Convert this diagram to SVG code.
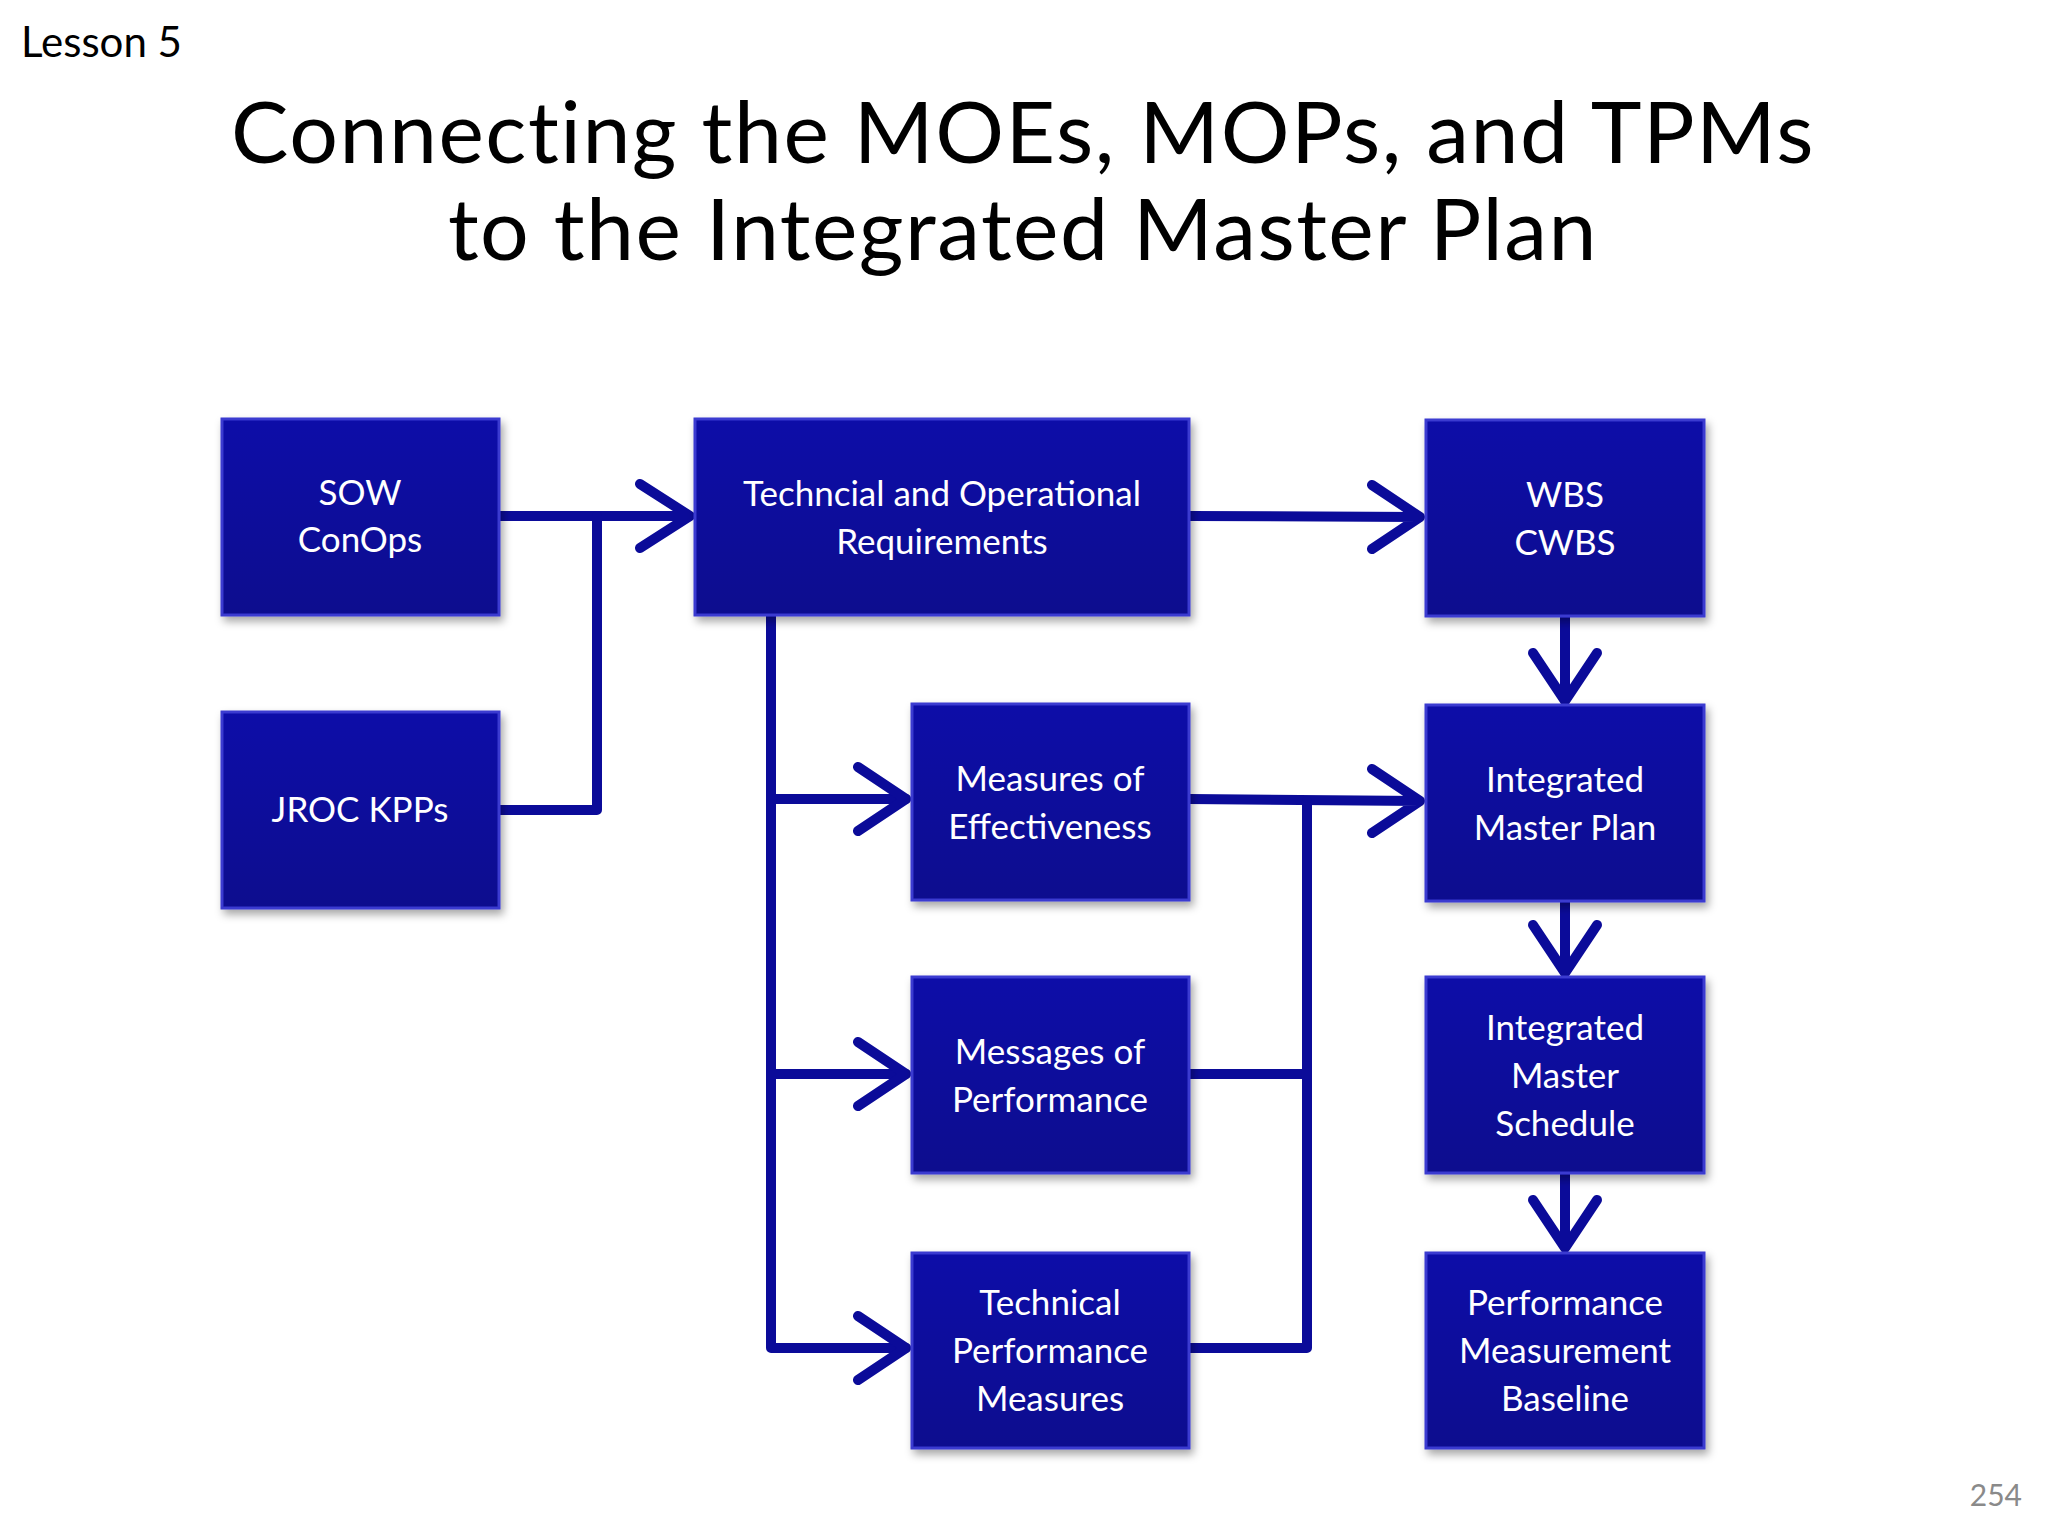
<svg xmlns="http://www.w3.org/2000/svg" width="2048" height="1536" viewBox="0 0 2048 1536">
<defs>
<filter id="sh" x="-10%" y="-10%" width="130%" height="130%"><feDropShadow dx="3" dy="5" stdDeviation="4" flood-color="#000" flood-opacity="0.35"/></filter>
<linearGradient id="g" x1="0" y1="0" x2="0" y2="1"><stop offset="0" stop-color="#0c0ca8"/><stop offset="1" stop-color="#07078e"/></linearGradient>
</defs>
<style>
.b{fill:url(#g);stroke:#3a3ad0;stroke-width:3;filter:url(#sh)}
.t{font-family:Lato,"Open Sans",sans-serif;font-size:35px;fill:#fff;text-anchor:middle}
.c{fill:none;stroke:#0b0b99;stroke-width:10;stroke-linejoin:round;stroke-linecap:round}
.h{font-family:Lato,"Open Sans",sans-serif;font-size:86px;fill:#000;text-anchor:middle;letter-spacing:1.5px}
</style>
<rect width="2048" height="1536" fill="#fff"/>
<text x="21" y="57" font-family="Lato,'Open Sans',sans-serif" font-size="42" fill="#000">Lesson 5</text>
<text class="h" x="1023" y="163">Connecting the MOEs, MOPs, and TPMs</text>
<text class="h" x="1023" y="260">to the Integrated Master Plan</text>
<text x="2022" y="1506" font-family="Lato,'Open Sans',sans-serif" font-size="30" fill="#8a8a8a" text-anchor="end">254</text>

<g id="connectors">
<path class="c" d="M499 516 H690 M640 484 L690 516 L640 548"/>
<path class="c" d="M499 810 H597 V516"/>
<path class="c" d="M1189 516 L1420 517 M1372 485 L1420 517 L1372 549"/>
<path class="c" d="M771 615 V1348 H906 M771 799 H906 M771 1074 H906"/>
<path class="c" d="M858 767 L906 799 L858 831 M858 1042 L906 1074 L858 1106 M858 1316 L906 1348 L858 1380"/>
<path class="c" d="M1189 799 L1420 801 M1372 769 L1420 801 L1372 833"/>
<path class="c" d="M1307 801 V1348 H1189 M1307 1074 H1189"/>
<path class="c" d="M1565 616 V701 M1533 653 L1565 701 L1597 653"/>
<path class="c" d="M1565 901 V973 M1533 925 L1565 973 L1597 925"/>
<path class="c" d="M1565 1173 V1248 M1533 1200 L1565 1248 L1597 1200"/>
</g>

<g id="sow"><rect class="b" x="222" y="419" width="277" height="196"/><text class="t" x="360" y="505">SOW</text><text class="t" x="360" y="552">ConOps</text></g>
<g id="jroc"><rect class="b" x="222" y="712" width="277" height="196"/><text class="t" x="360" y="822">JROC KPPs</text></g>
<g id="req"><rect class="b" x="695" y="419" width="494" height="196"/><text class="t" x="942" y="506">Techncial and Operational</text><text class="t" x="942" y="554">Requirements</text></g>
<g id="wbs"><rect class="b" x="1426" y="420" width="278" height="196"/><text class="t" x="1565" y="507">WBS</text><text class="t" x="1565" y="555">CWBS</text></g>
<g id="moe"><rect class="b" x="912" y="704" width="277" height="196"/><text class="t" x="1050" y="791">Measures of</text><text class="t" x="1050" y="839">Effectiveness</text></g>
<g id="mop"><rect class="b" x="912" y="977" width="277" height="196"/><text class="t" x="1050" y="1064">Messages of</text><text class="t" x="1050" y="1112">Performance</text></g>
<g id="tpm"><rect class="b" x="912" y="1253" width="277" height="195"/><text class="t" x="1050" y="1315">Technical</text><text class="t" x="1050" y="1363">Performance</text><text class="t" x="1050" y="1411">Measures</text></g>
<g id="imp"><rect class="b" x="1426" y="705" width="278" height="196"/><text class="t" x="1565" y="792">Integrated</text><text class="t" x="1565" y="840">Master Plan</text></g>
<g id="ims"><rect class="b" x="1426" y="977" width="278" height="196"/><text class="t" x="1565" y="1040">Integrated</text><text class="t" x="1565" y="1088">Master</text><text class="t" x="1565" y="1136">Schedule</text></g>
<g id="pmb"><rect class="b" x="1426" y="1253" width="278" height="195"/><text class="t" x="1565" y="1315">Performance</text><text class="t" x="1565" y="1363">Measurement</text><text class="t" x="1565" y="1411">Baseline</text></g>
</svg>
